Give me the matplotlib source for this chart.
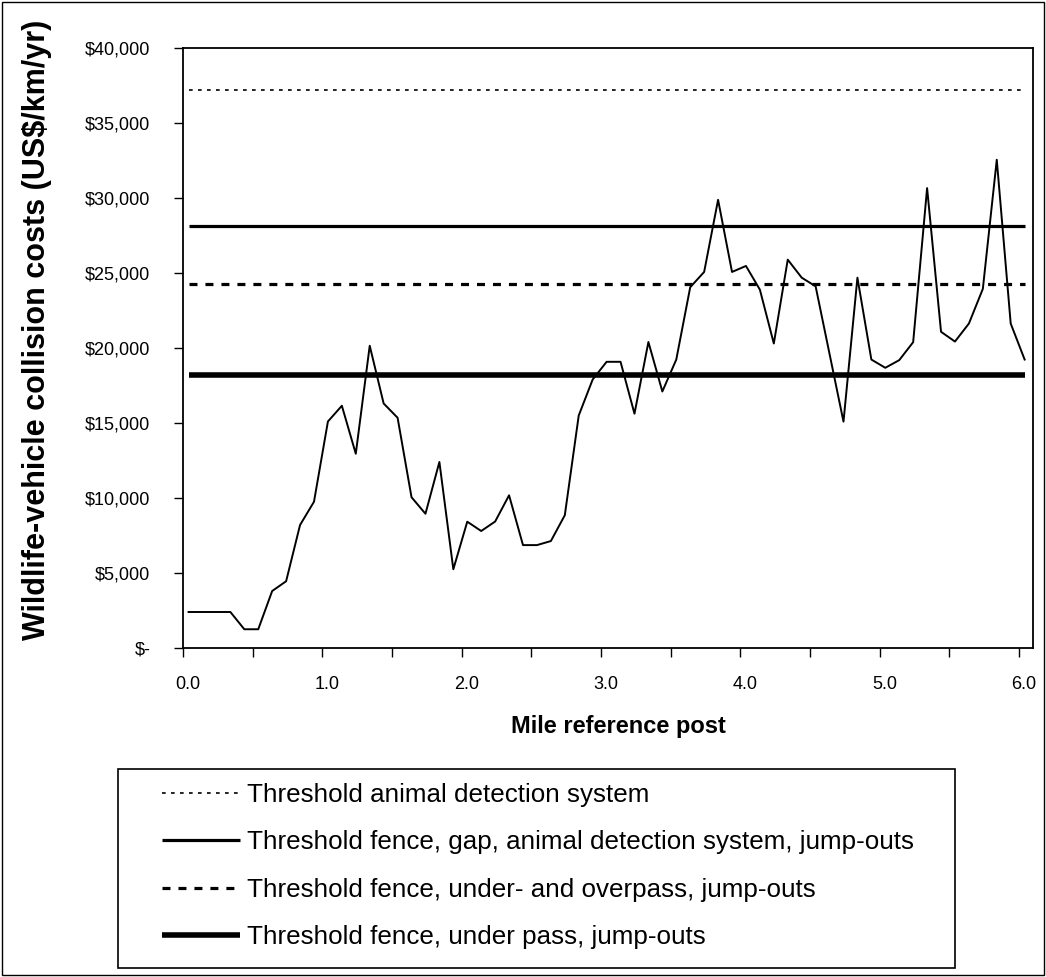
import numpy as np
import matplotlib
matplotlib.use('Agg')
import matplotlib.pyplot as plt
from matplotlib.ticker import FuncFormatter, MultipleLocator
from matplotlib.transforms import ScaledTranslation
from matplotlib.patches import Rectangle

plt.rcParams['font.family'] = ['Liberation Sans', 'DejaVu Sans']

# mile posts (one value every 0.1 mile)
mile_post = np.round(0.04 + 0.1 * np.arange(61), 2)
costs = [2400, 2400, 2400, 2400, 1250, 1250, 3800, 4450, 8200, 9750,
         15100, 16150, 12950, 20150, 16300, 15350, 10050, 8950, 12400, 5250,
         8420, 7800, 8430, 10180, 6860, 6860, 7130, 8850, 15500, 17900,
         19080, 19080, 15620, 20400, 17100, 19230, 24050, 25070, 29880, 25070,
         25470, 23890, 20300, 25890, 24690, 24110, 19600, 15090, 24690, 19230,
         18680, 19190, 20390, 30660, 21080, 20430, 21630, 23940, 32550, 21630,
         19230]

threshold_labels = ['Threshold animal detection system',
                    'Threshold fence, gap, animal detection system, jump-outs',
                    'Threshold fence, under- and overpass, jump-outs',
                    'Threshold fence, under pass, jump-outs']
threshold_values = [37200, 28120, 24250, 18170]

W, H = 1046, 977
fig = plt.figure(figsize=(W/100, H/100), dpi=100)
ax = fig.add_axes([183/W, 1 - 648/H, 850/W, 600/H])

ax.plot(mile_post, costs, color='black', lw=1.4, zorder=3)

styles = [dict(lw=1.2, ls=(0, (2.2, 3.2))),
          dict(lw=2.3, ls='-'),
          dict(lw=2.3, ls=(0, (2.5, 2.5))),
          dict(lw=4.0, ls='-')]
handles = []
for val, lab, st in zip(threshold_values, threshold_labels, styles):
    h, = ax.plot([mile_post[0], mile_post[-1]], [val, val], color='black',
                 label=lab, solid_capstyle='butt', dash_capstyle='butt', **st)
    handles.append(h)

ax.set_xlim(0, 6.1)
ax.set_ylim(0, 40000)
ax.xaxis.set_major_locator(MultipleLocator(0.5))
ax.xaxis.set_major_formatter(FuncFormatter(lambda v, p: '%.1f' % v if abs(v - round(v)) < 1e-6 else ''))
ax.yaxis.set_major_locator(MultipleLocator(5000))
ax.yaxis.set_major_formatter(FuncFormatter(lambda v, p: '$-' if v == 0 else '${:,.0f}'.format(v)))
ax.tick_params(axis='both', direction='out', length=6.5, width=1, labelsize=13)
ax.tick_params(axis='y', pad=17)
ax.tick_params(axis='x', pad=14)
for lbl in ax.get_xticklabels():
    lbl.set_transform(lbl.get_transform() + ScaledTranslation(5/100, 0, fig.dpi_scale_trans))
for s in ax.spines.values():
    s.set_linewidth(1.3)

fig.text(37/W, 1 - 330/H, 'Wildlife-vehicle collision costs (US$/km/yr)',
         rotation=90, ha='center', va='center', fontsize=22, fontweight='bold')
fig.text(618/W, 1 - 726/H, 'Mile reference post', ha='center', va='center',
         fontsize=17, fontweight='bold')

# legend without its own frame, box drawn separately
leg = fig.legend(handles=handles, loc='upper left',
                 bbox_to_anchor=(162/W, 1 - 783/H),
                 borderaxespad=0, borderpad=0, frameon=False,
                 prop={'size': 18.7},
                 handlelength=3.0, handletextpad=0.27, labelspacing=0.9)

fig.patches.append(Rectangle((118/W, 1 - 968/H), (955 - 118)/W, (968 - 769)/H,
                             transform=fig.transFigure, fill=False,
                             edgecolor='black', lw=1.2))
fig.patches.append(Rectangle((2/W, 2/H), 1042/W, 973/H, transform=fig.transFigure,
                             fill=False, edgecolor='black', lw=1.0))

fig.savefig('out.png', dpi=100)
